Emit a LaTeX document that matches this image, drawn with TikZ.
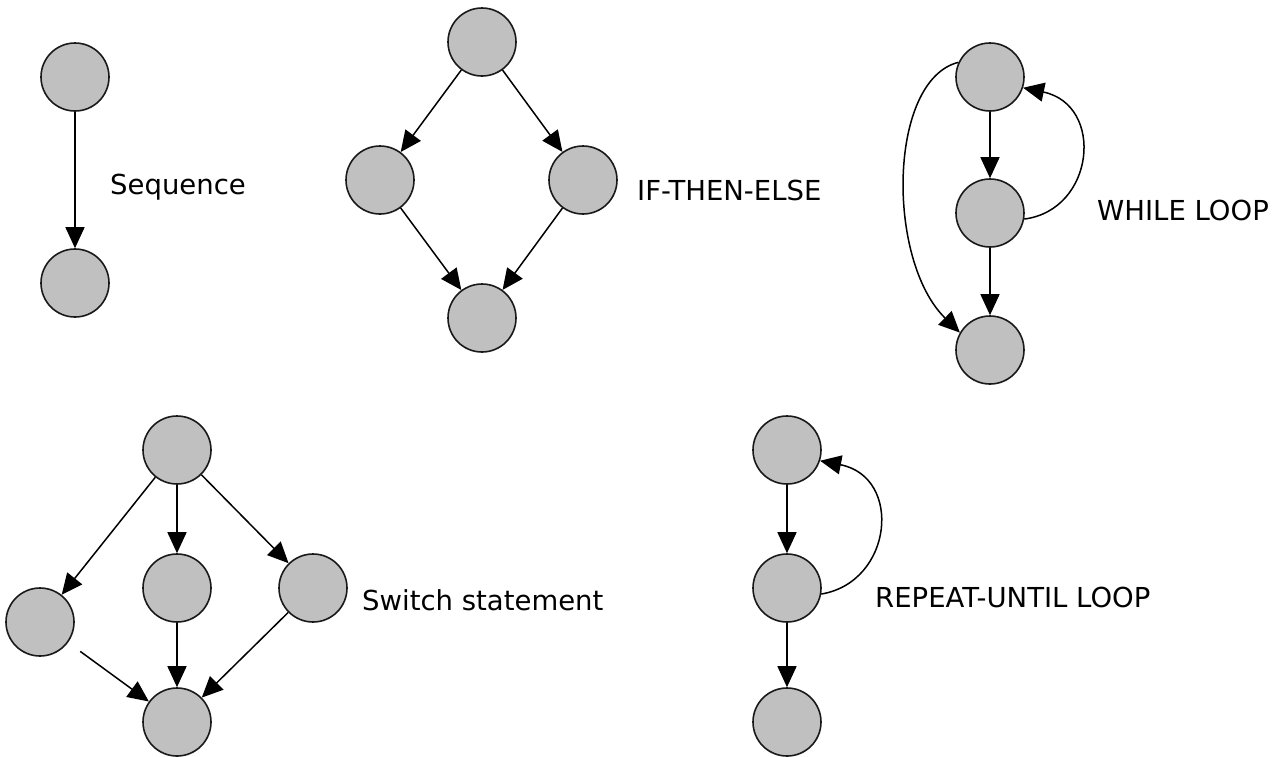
\documentclass[tikz,border=0pt]{standalone}
\usepackage{fontspec}
\setmainfont{DejaVu Sans}
\usetikzlibrary{arrows.meta}
\definecolor{nodegray}{RGB}{192,192,192}

\begin{document}
\begin{tikzpicture}[x=1pt,y=-1pt]

\tikzset{vertex/.style = {shape=circle,draw=black!90,line width=1.6pt,fill=nodegray,minimum size=68pt,inner sep=0pt}}
\tikzset{flow/.style = {line width=1.5pt,-{Triangle[length=21pt,width=19pt]}}}
\tikzset{caption/.style = {anchor=west,inner sep=0pt,font=\fontsize{27.5}{33}\selectfont}}
\useasboundingbox (0,0) rectangle (1272,756);
%sequence
\node[vertex] (seq1) at (75,77) {};
\node[vertex] (seq2) at (75,283) {};
\node[caption] (seqtext) at (110,187) {Sequence};
\draw [flow] (seq1) -- (seq2);
%if-then-else
\node[vertex] (if1) at (482,42) {};
\node[vertex] (if2) at (380,180) {};
\node[vertex] (if3) at (583,180) {};
\node[vertex] (if4) at (482,318) {};
\node[caption] (iftext) at (637,190) {IF-THEN-ELSE};
\draw [flow] (if1) -- (if2);
\draw [flow] (if1) -- (if3);
\draw [flow] (if2) -- (if4);
\draw [flow] (if3) -- (if4);
%while loop
\node[vertex] (wh1) at (990,77) {};
\node[vertex] (wh2) at (990,213) {};
\node[vertex] (wh3) at (990,350) {};
\node[caption] (whtext) at (1097,210) {WHILE LOOP};
\draw [flow] (wh1) -- (wh2);
\draw [flow] (wh2) -- (wh3);
\draw [flow] (wh2.-10) .. controls (1095,210) and (1105,105) .. (wh1.-18);
\draw [flow] (wh1.155) .. controls (888,80) and (886,260) .. (wh3.150);
%switch statement
\node[vertex] (sw1) at (177,450) {};
\node[vertex] (sw2) at (40,622) {};
\node[vertex] (sw3) at (177,588) {};
\node[vertex] (sw4) at (313,588) {};
\node[vertex] (sw5) at (177,722) {};
\node[caption] (swtext) at (362,600) {Switch statement};
\draw [flow] (sw1) -- (sw2);
\draw [flow] (sw1) -- (sw3);
\draw [flow] (sw1) -- (sw4);
\draw [flow, shorten <=15pt] (sw2) -- (sw5);
\draw [flow] (sw3) -- (sw5);
\draw [flow] (sw4) -- (sw5);
%repeat-until loop
\node[vertex] (rep1) at (787,450) {};
\node[vertex] (rep2) at (787,588) {};
\node[vertex] (rep3) at (787,722) {};
\node[caption] (reptext) at (875,597) {REPEAT-UNTIL LOOP};
\draw [flow] (rep1) -- (rep2);
\draw [flow] (rep2) -- (rep3);
\draw [flow] (rep2.-10) .. controls (893,582) and (903,477) .. (rep1.-18);

\end{tikzpicture}
\end{document}
